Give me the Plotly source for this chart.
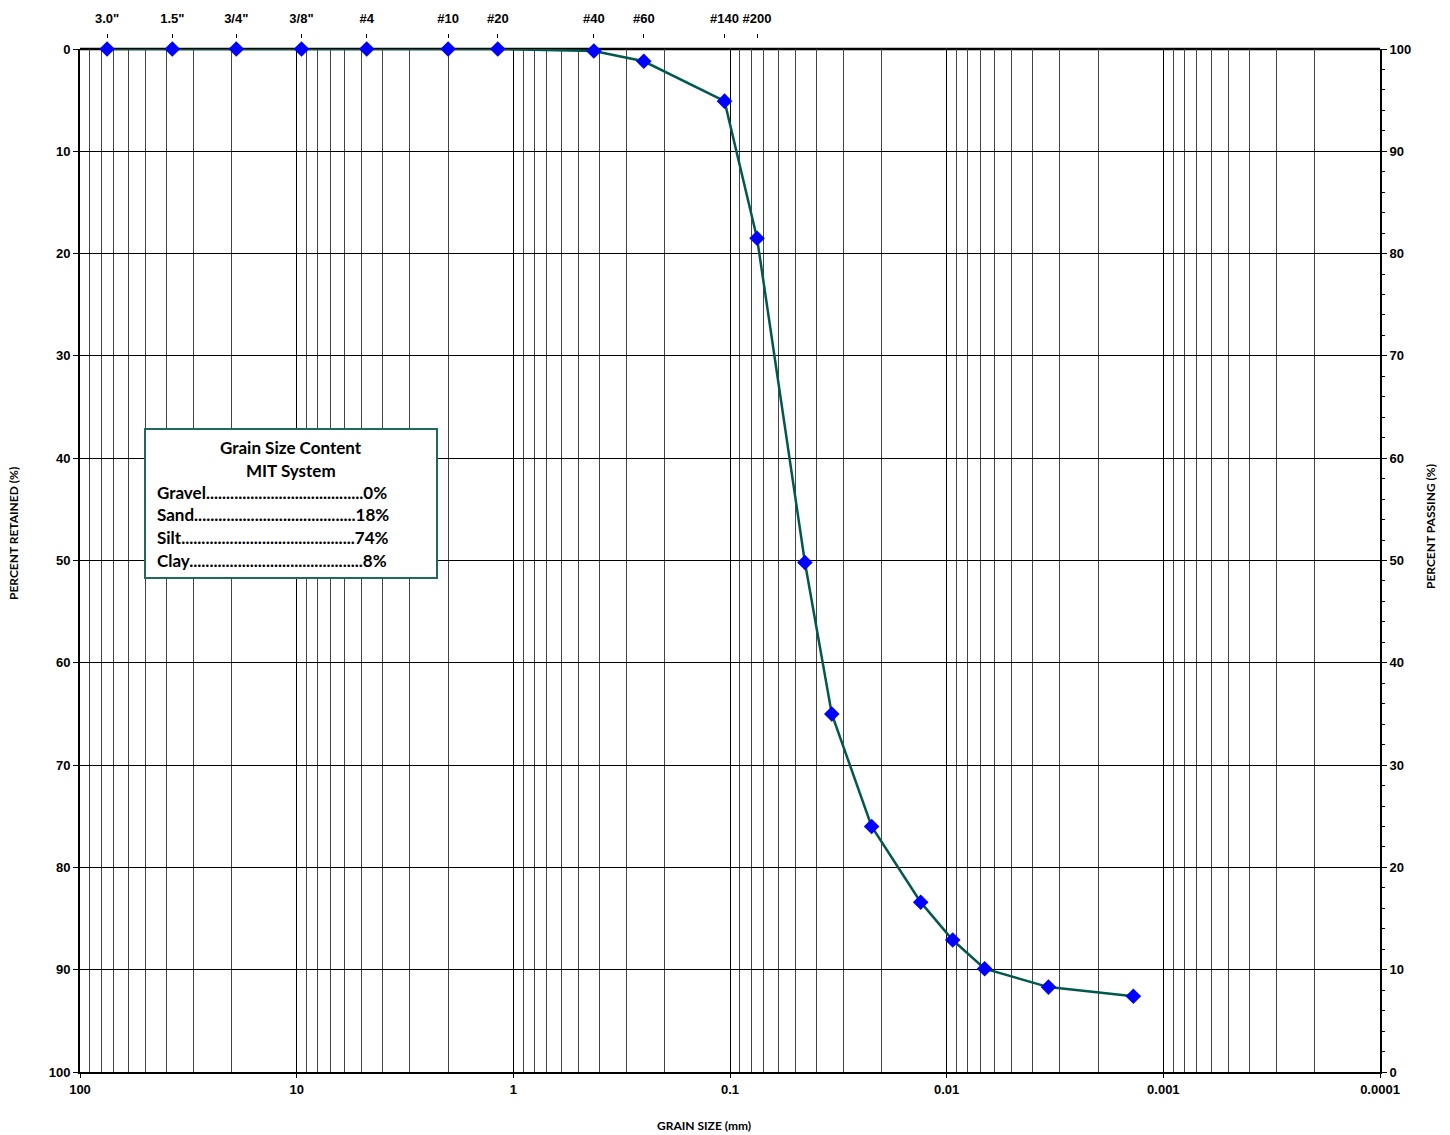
import plotly.graph_objects as go

# Sieve / hydrometer results
grain_size_mm = [75.0, 37.5, 19.0, 9.5, 4.75, 2.0, 1.18, 0.425, 0.25, 0.106, 0.075,
                 0.0451, 0.0339, 0.0222, 0.01318, 0.00938, 0.00668, 0.00339, 0.001375]
percent_retained = [0, 0, 0, 0, 0, 0, 0, 0.2, 1.2, 5.1, 18.5,
                    50.2, 65.0, 76.0, 83.4, 87.1, 89.9, 91.7, 92.6]
percent_passing = [100 - r for r in percent_retained]

# Sieve designations shown along the top
sieve_sizes = [75.0, 37.5, 19.0, 9.5, 4.75, 2.0, 1.18, 0.425, 0.25, 0.106, 0.075]
sieve_labels = ['3.0"', '1.5"', '3/4"', '3/8"', '#4', '#10', '#20', '#40', '#60', '#140', '#200']

# Bottom axis decades
decade_vals = [100, 10, 1, 0.1, 0.01, 0.001, 0.0001]
decade_labels = ['100', '10', '1', '0.1', '0.01', '0.001', '0.0001']

# Grain size content summary
content_title = ['Grain Size Content', 'MIT System']
content_lines = ['Gravel' + '.' * 39 + '0%',
                 'Sand' + '.' * 40 + '18%',
                 'Silt' + '.' * 43 + '74%',
                 'Clay' + '.' * 43 + '8%']

minor_vals = [m * 10 ** e for e in range(-4, 2) for m in range(2, 10)]

TICK_FONT = dict(family='Liberation Sans, Arial', size=13, color='black', weight='bold')
LINE_COL = '#00594C'

fig = go.Figure()
fig.add_trace(go.Scatter(
    x=grain_size_mm, y=percent_retained, mode='lines+markers',
    line=dict(color=LINE_COL, width=2.5),
    marker=dict(symbol='diamond', size=12, color='#0000FF', line=dict(width=0)),
    cliponaxis=False, showlegend=False, hoverinfo='x+y'))
# Passing / sieve-axis companion trace (invisible)
fig.add_trace(go.Scatter(
    x=grain_size_mm, y=percent_passing, xaxis='x2', yaxis='y2', mode='lines',
    line=dict(width=0, color='rgba(0,0,0,0)'), showlegend=False, hoverinfo='skip'))

ydom = [0, (1072 - 49) / (1135 - 38 - 63)]

fig.update_layout(
    width=1450, height=1135,
    margin=dict(l=80, r=70, t=38, b=63),
    paper_bgcolor='white', plot_bgcolor='white',
    xaxis=dict(type='log', range=[2, -4], tickvals=decade_vals, ticktext=decade_labels,
               tickfont=TICK_FONT, ticks='outside', ticklen=4, tickcolor='black',
               showgrid=True, gridcolor='black', gridwidth=1,
               minor=dict(tickvals=minor_vals, showgrid=True, gridcolor='#444', gridwidth=1, ticks=''),
               showline=True, linecolor='black', linewidth=2, mirror=False,
               zeroline=False, anchor='y'),
    xaxis2=dict(type='log', range=[2, -4], overlaying='x', side='top', anchor='free', position=1,
                tickvals=sieve_sizes, ticktext=sieve_labels, tickfont=TICK_FONT,
                ticks='outside', ticklen=4, tickcolor='black', ticklabelstandoff=6,
                showgrid=False, showline=False, zeroline=False),
    yaxis=dict(range=[100, 0], domain=ydom, tickvals=list(range(0, 101, 10)),
               tickfont=TICK_FONT, ticks='outside', ticklen=5, tickcolor='black',
               showgrid=True, gridcolor='black', gridwidth=1,
               showline=True, linecolor='black', linewidth=2, zeroline=False),
    yaxis2=dict(range=[0, 100], domain=ydom, overlaying='y', side='right', anchor='x',
                tickvals=list(range(0, 101, 10)), tickfont=TICK_FONT,
                ticks='outside', ticklen=5, tickcolor='black',
                minor=dict(dtick=2, ticks='outside', ticklen=3, tickcolor='black', showgrid=False),
                showgrid=False, showline=True, linecolor='black', linewidth=2, zeroline=False),
)

# Top border of the plotting area
fig.add_shape(type='line', xref='x domain', yref='y domain', x0=0, x1=1, y0=1, y1=1,
              line=dict(color='black', width=2.5), layer='below')

# Summary box
fig.add_shape(type='rect', xref='paper', yref='paper',
              x0=(145 - 80) / 1300, x1=(437 - 80) / 1300,
              y0=(1072 - 578) / 1034, y1=(1072 - 429) / 1034,
              line=dict(color='#1E6B5A', width=2), fillcolor='white', layer='above')

BOX_FONT = dict(family='Lato, Open Sans', size=17, color='black', weight='bold')
for i, t in enumerate(content_title):
    fig.add_annotation(text=t, xref='paper', yref='paper', x=(291 - 80) / 1300,
                       y=(1072 - (447 + 23 * i)) / 1034, showarrow=False,
                       xanchor='center', yanchor='middle', font=BOX_FONT)
for i, t in enumerate(content_lines):
    fig.add_annotation(text=t, xref='paper', yref='paper', x=(155 - 80) / 1300,
                       y=(1072 - (492 + 22.7 * i)) / 1034, showarrow=False,
                       xanchor='left', yanchor='middle', font=BOX_FONT)

TITLE_FONT = dict(family='Lato, Open Sans', size=12, color='black', weight='bold')
fig.add_annotation(text='PERCENT RETAINED (%)', xref='paper', yref='paper',
                   x=(13 - 80) / 1300, y=(1072 - 534) / 1034, textangle=-90,
                   showarrow=False, xanchor='center', yanchor='middle', font=TITLE_FONT)
fig.add_annotation(text='PERCENT PASSING (%)', xref='paper', yref='paper',
                   x=(1430 - 80) / 1300, y=(1072 - 527) / 1034, textangle=-90,
                   showarrow=False, xanchor='center', yanchor='middle', font=TITLE_FONT)
fig.add_annotation(text='GRAIN SIZE (mm)', xref='paper', yref='paper',
                   x=(704 - 80) / 1300, y=(1072 - 1125) / 1034,
                   showarrow=False, xanchor='center', yanchor='middle', font=TITLE_FONT)

fig.write_html('out.html')
